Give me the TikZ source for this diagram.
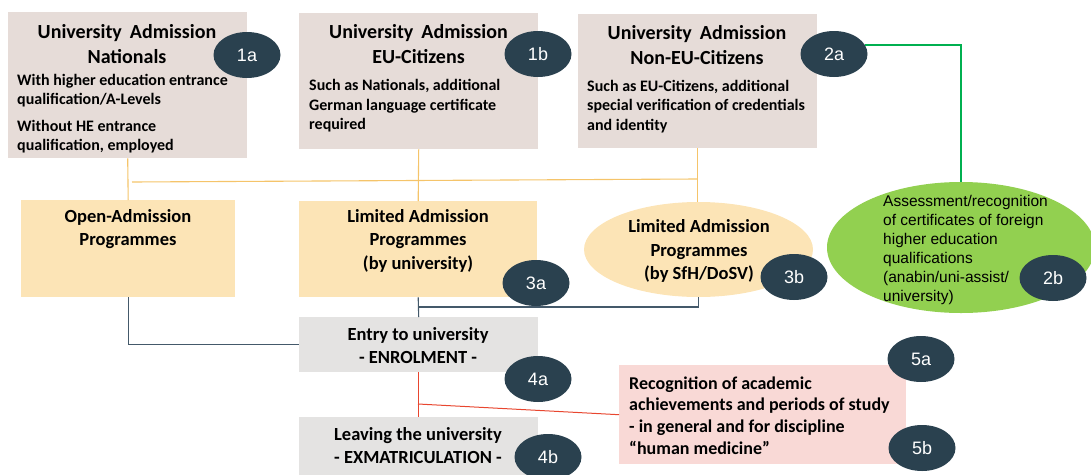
\documentclass[tikz,border=0pt]{standalone}
\usepackage{fontspec}
\setmainfont{Carlito}
\newfontfamily\arialfont{Liberation Sans}
\usetikzlibrary{shapes.geometric}
\definecolor{topfill}{HTML}{E6DCD8}
\definecolor{progfill}{HTML}{FCE4B6}
\definecolor{unifill}{HTML}{E4E3E2}
\definecolor{recfill}{HTML}{F9D9D6}
\definecolor{assfill}{HTML}{92D050}
\definecolor{badgefill}{HTML}{2A414F}
\definecolor{orline}{HTML}{F5C46A}
\definecolor{dkline}{HTML}{44596A}
\definecolor{rdline}{HTML}{E8462F}
\definecolor{grline}{HTML}{00B050}
\begin{document}
\begin{tikzpicture}[x=1pt,y=-1pt]
	\tikzstyle{box_top} = [rectangle, fill=topfill, inner sep=0pt, anchor=north west]
	\tikzstyle{box_prog} = [rectangle, fill=progfill, inner sep=0pt, anchor=north west]
	\tikzstyle{box_uni} = [rectangle, fill=unifill, inner sep=0pt, anchor=north west]
	\tikzstyle{box_rec} = [rectangle, fill=recfill, inner sep=0pt, anchor=north west]
	\tikzstyle{ell_prog} = [ellipse, fill=progfill, inner sep=0pt, minimum width=229pt, minimum height=95pt]
	\tikzstyle{ell_ass} = [ellipse, fill=assfill, inner sep=0pt, minimum width=268pt, minimum height=131pt]
	\tikzstyle{badge} = [ellipse, fill=badgefill, text=white, inner sep=0pt, minimum width=67pt, minimum height=46pt, font=\arialfont\fontsize{18}{20}\selectfont]
	\tikzstyle{title} = [inner sep=0pt, align=center, font=\fontsize{20}{25}\selectfont\bfseries]
	\tikzstyle{body} = [inner sep=0pt, anchor=west, align=left, font=\fontsize{16}{19.5}\selectfont\bfseries]
	\tikzstyle{label_mid} = [inner sep=0pt, align=center, font=\fontsize{18.5}{23.5}\selectfont\bfseries]
	\tikzstyle{label_rec} = [inner sep=0pt, anchor=west, align=left, font=\fontsize{18}{21.7}\selectfont\bfseries]
	\tikzstyle{label_ass} = [inner sep=0pt, anchor=west, align=left, font=\arialfont\fontsize{15.5}{19}\selectfont]
	\tikzstyle{line_or} = [draw=orline, line width=1.1pt]
	\tikzstyle{line_dk} = [draw=dkline, line width=1.1pt]
	\tikzstyle{line_rd} = [draw=rdline, line width=1pt]
	\tikzstyle{line_gr} = [draw=grline, line width=1.4pt]
\def\uniadm{University\hspace{0.4em}Admission}

\useasboundingbox (0,0) rectangle (1091,474);

%admission groups
\foreach \name/\x/\y/\w/\h in {nat/8/12/239/146, eu/299/13/239/136, noneu/578/14/239/134}
	\node[box_top, minimum width=\w pt, minimum height=\h pt] (\name) at (\x,\y) {};

\node[title] (nat_t) at (127,44.5) {\uniadm\\Nationals};
\node[title] (eu_t) at (418.5,44.5) {\uniadm\\EU-Citizens};
\node[title] (noneu_t) at (697,45) {\uniadm\\Non-EU-Citizens};

\node[body] (nat_b) at (17,113.5) {With higher education entrance\\qualification/A-Levels\\[7pt]Without HE entrance\\qualification, employed};
\node[body] (eu_b) at (309,106) {Such as Nationals, additional\\German language certificate\\required};
\node[body] (noneu_b) at (587,106.5) {Such as EU-Citizens, additional\\special verification of credentials\\and identity};

%programmes
\foreach \name/\x/\y/\w/\h in {open/21/200/214/97, lim/299/201/238/96}
	\node[box_prog, minimum width=\w pt, minimum height=\h pt] (\name) at (\x,\y) {};
\node[ell_prog] (sfh) at (698.5,249.5) {};

\node[label_mid] (open_t) at (128,229) {Open-Admission\\Programmes};
\node[label_mid] (lim_t) at (418,240.5) {Limited Admission\\Programmes\\(by university)};
\node[label_mid] (sfh_t) at (699,251) {Limited Admission\\Programmes\\(by SfH/DoSV)};

%recognition of foreign qualifications
\node[ell_ass] (assess) at (961,247.5) {};
\node[label_ass] (assess_t) at (883,249.5) {Assessment/recognition\\of certificates of foreign\\higher education\\qualifications\\(anabin/uni-assist/\\university)};

%entry and leaving
\node[box_uni, minimum width=239pt, minimum height=55pt] (entry) at (299,317) {};
\node[box_uni, minimum width=239pt, minimum height=60pt] (leave) at (299,417) {};
\node[label_mid] (entry_t) at (418,345.5) {Entry to university\\- ENROLMENT -};
\node[label_mid] (leave_t) at (418,445.5) {Leaving the university\\- EXMATRICULATION -};

\node[box_rec, minimum width=287pt, minimum height=99pt] (recog) at (619,365) {};
\node[label_rec] (recog_t) at (629,415.5) {Recognition of academic\\achievements and periods of study\\- in general and for discipline\\“human medicine”};

%connectors
\coordinate (split_l) at (132,182);
\coordinate (split_r) at (697,179);
\draw[line_or] (nat.south) -- (open.north);
\draw[line_or] (eu.south) -- (lim.north);
\draw[line_or] (noneu.south) -- (noneu.south |- sfh.north);
\draw[line_or] (split_l) -- (split_r);

\coordinate (join) at (418,307);
\draw[line_dk] (open.south) |- (entry.west);
\draw[line_dk] (lim.south) -- (entry.north);
\draw[line_dk] (sfh.south) |- (join);

\coordinate (branch) at (418,404);
\draw[line_rd] (entry.south) -- (leave.north);
\draw[line_rd] (branch) -- (recog.west);

%step numbers
\foreach \name/\x/\y in {1a/247/55, 1b/538/54, 2a/834/54, 2b/1053/278, 3a/536/283, 3b/794/277, 4a/538/379, 4b/548/457, 5a/921/359, 5b/922/448}
	\node[badge] (b\name) at (\x,\y) {\name};

\draw[line_gr] (b2a.16) -| (assess.north);
\end{tikzpicture}
\end{document}
